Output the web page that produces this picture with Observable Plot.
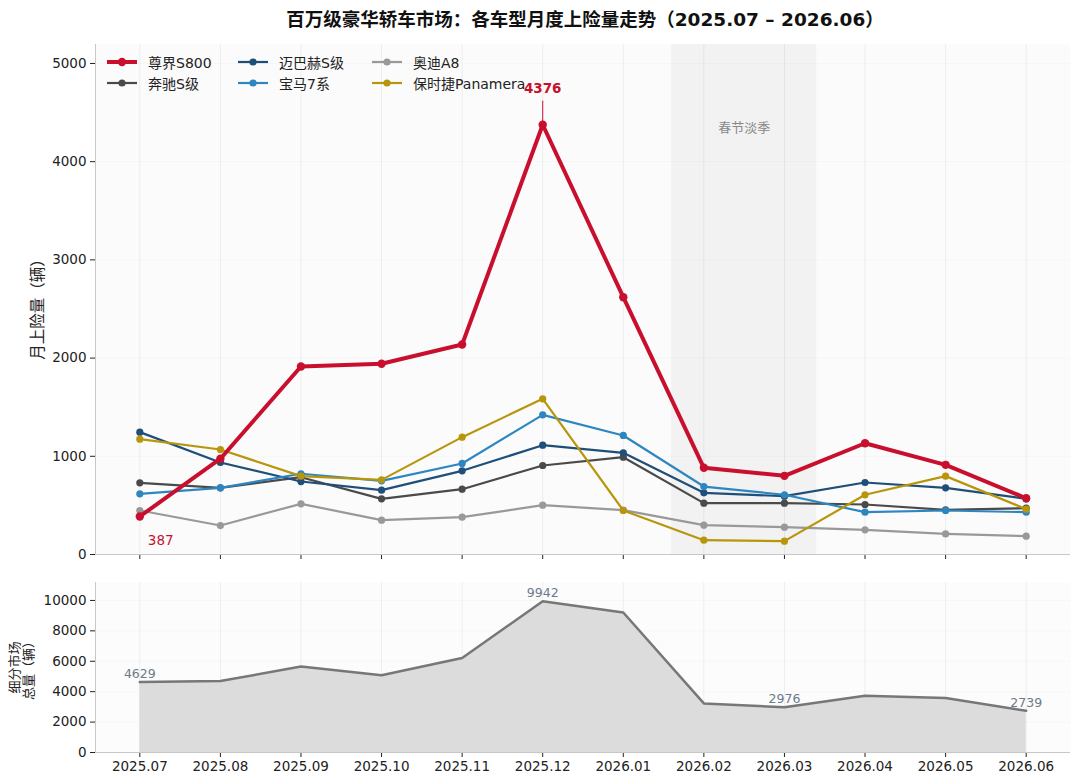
<!DOCTYPE html>
<html>
<head>
<meta charset="utf-8">
<script src="https://cdn.jsdelivr.net/npm/d3@7"></script>
<script src="https://cdn.jsdelivr.net/npm/@observablehq/plot@0.6"></script>
<style>
  html, body { margin: 0; padding: 0; background: #fff; }
  #root { position: relative; width: 1080px; height: 784px; font-family: "DejaVu Sans", "Noto Sans CJK SC", sans-serif; color: #222; overflow: hidden; }
  #title { position: absolute; top: 5px; left: 0; width: 1170px; text-align: center; font-size: 18.5px; font-weight: bold; color: #111; }
  #top { position: absolute; top: 36px; left: 0; }
  #bottom { position: absolute; top: 574px; left: 0; }
  .leg { position: absolute; font-size: 14px; color: #222; display: flex; align-items: center; white-space: nowrap; }
  .leg svg { margin-right: 11px; }
</style>
</head>
<body>
<div id="root">
  <div id="title">百万级豪华轿车市场：各车型月度上险量走势（2025.07 – 2026.06）</div>
  <div id="top"></div>
  <div id="bottom"></div>
  <div id="legend"></div>
</div>
<script>
// ---------- data ----------
const months = ["2025.07","2025.08","2025.09","2025.10","2025.11","2025.12","2026.01","2026.02","2026.03","2026.04","2026.05","2026.06"];
const zunjieS800   = [387, 975, 1914, 1942, 2138, 4376, 2620, 883, 801, 1133, 913, 573];
const benzS        = [730, 679, 787, 567, 665, 906, 991, 523, 523, 509, 455, 472];
const maybachS     = [1246, 937, 743, 655, 852, 1113, 1035, 628, 594, 733, 679, 567];
const bmw7         = [618, 679, 822, 750, 927, 1422, 1212, 692, 608, 431, 448, 431];
const audiA8       = [448, 295, 516, 350, 380, 502, 452, 299, 278, 251, 210, 187];
const panamera     = [1174, 1069, 798, 760, 1195, 1585, 448, 146, 136, 608, 798, 462];
const segmentTotal = [4629, 4700, 5650, 5075, 6217, 9942, 9210, 3230, 2976, 3738, 3580, 2739];
const seriesNames  = ["尊界S800","奔驰S级","迈巴赫S级","宝马7系","奥迪A8","保时捷Panamera"];
const seriesColors = ["#c8102e","#4a4a4a","#1f4e79","#2e86c1","#999999","#b8960c"];
const holidayMonths = ["2026.02","2026.03"];
const holidayLabel = "春节淡季";
const totalLabelMonths = ["2025.07","2025.12","2026.03","2026.06"];
const yTicksTop = [0,1000,2000,3000,4000,5000];
const yTicksBottom = [0,2000,4000,6000,8000,10000];

// ---------- build tables ----------
const seriesValues = [zunjieS800, benzS, maybachS, bmw7, audiA8, panamera];
const series = seriesNames.map((name, k) => ({
  name, color: seriesColors[k], main: k === 0,
  data: seriesValues[k].map((v, i) => ({i, v, name}))
}));
const totals = segmentTotal.map((v, i) => ({i, v}));
const hStart = months.indexOf(holidayMonths[0]);
const hEnd = months.indexOf(holidayMonths[holidayMonths.length - 1]);
const band = [{x1: hStart - 0.4, x2: hEnd + 0.4, label: holidayLabel, xm: (hStart + hEnd) / 2}];
const peak = series[0].data.reduce((a, b) => (b.v > a.v ? b : a));
const first = series[0].data[0];

const font = `"DejaVu Sans", "Noto Sans CJK SC", sans-serif`;
const xDomain = [-0.55, months.length - 1 + 0.55];
const commonStyle = {fontSize: "13.5px", fontFamily: font, color: "#222", background: "transparent", overflow: "visible"};

// ---------- top chart ----------
const ordered = [...series.slice(1), series[0]];
const topMarks = [
  Plot.frame({fill: "#fbfbfb", stroke: null}),
  Plot.rect(band, {x1: "x1", x2: "x2", fill: "#e6e6e6", fillOpacity: 0.45}),
  Plot.gridX(d3.range(months.length), {stroke: "#000", strokeOpacity: 0.06}),
  Plot.gridY(yTicksTop, {stroke: "#000", strokeOpacity: 0.025}),
  Plot.text(band, {x: "xm", y: 4340, text: "label", fill: "#888", fontSize: 13}),
  Plot.ruleX([xDomain[0]], {stroke: "#c8c8c8", strokeWidth: 1}),
  Plot.ruleY([0], {stroke: "#c8c8c8", strokeWidth: 1}),
];
for (const s of ordered) {
  topMarks.push(Plot.line(s.data, {x: "i", y: "v", stroke: s.color, strokeWidth: s.main ? 4 : 2.2, strokeLinejoin: "round"}));
  topMarks.push(Plot.dot(s.data, {x: "i", y: "v", fill: s.color, r: s.main ? 4.2 : 3.6, stroke: null}));
}
topMarks.push(
  Plot.ruleX([peak], {x: "i", y1: "v", y2: d => d.v * 1.055, stroke: seriesColors[0], strokeWidth: 1}),
  Plot.text([peak], {x: "i", y: "v", text: d => String(d.v), dy: -36, fill: seriesColors[0], fontWeight: "bold", fontSize: 13.5}),
  Plot.text([first], {x: "i", y: "v", text: d => String(d.v), dx: 8, dy: 24, textAnchor: "start", fill: seriesColors[0], fontSize: 13.5}),
  Plot.text(["月上险量（辆）"], {frameAnchor: "left", textAnchor: "middle", dx: -57, dy: 6, rotate: -90, fill: "#222", fontSize: 15.5})
);

const topPlot = Plot.plot({
  width: 1080, height: 540,
  marginLeft: 95, marginRight: 10, marginTop: 8, marginBottom: 22,
  style: commonStyle,
  x: {type: "linear", domain: xDomain, ticks: d3.range(months.length), tickFormat: () => "", label: null, tickSize: 5},
  y: {domain: [0, 5193], ticks: yTicksTop, tickFormat: d => String(d), label: null, tickSize: 5, tickPadding: 4},
  marks: topMarks
});
document.getElementById("top").appendChild(topPlot);

// ---------- bottom chart ----------
const bottomPlot = Plot.plot({
  width: 1080, height: 210,
  marginLeft: 95, marginRight: 10, marginTop: 8, marginBottom: 32,
  style: commonStyle,
  x: {type: "linear", domain: xDomain, ticks: d3.range(months.length), tickFormat: i => months[i], label: null, tickSize: 5, tickPadding: 4},
  y: {domain: [0, 11180], ticks: yTicksBottom, tickFormat: d => String(d), label: null, tickSize: 5, tickPadding: 4},
  marks: [
    Plot.frame({fill: "#fcfcfc", stroke: null}),
    Plot.gridX(d3.range(months.length), {stroke: "#000", strokeOpacity: 0.06}),
    Plot.gridY(yTicksBottom, {stroke: "#000", strokeOpacity: 0.025}),
    Plot.areaY(totals, {x: "i", y: "v", fill: "#dcdcdc"}),
    Plot.lineY(totals, {x: "i", y: "v", stroke: "#777", strokeWidth: 2.5}),
    Plot.text(totals.filter(d => totalLabelMonths.includes(months[d.i])), {x: "i", y: "v", text: d => String(d.v), dy: -8, fill: "#6c7a89", fontSize: 12.5}),
    Plot.ruleX([xDomain[0]], {stroke: "#c8c8c8", strokeWidth: 1}),
    Plot.ruleY([0], {stroke: "#c8c8c8", strokeWidth: 1}),
    Plot.text(["细分市场\n总量（辆）"], {frameAnchor: "left", textAnchor: "middle", dx: -74, rotate: -90, fill: "#222", fontSize: 13, lineHeight: 1.05})
  ]
});
document.getElementById("bottom").appendChild(bottomPlot);

// ---------- legend ----------
const legendPos = [[107, 62], [107, 83], [238, 62], [238, 83], [372, 62], [372, 83]];
const legendOrder = [0, 1, 2, 3, 4, 5];
const legend = document.getElementById("legend");
legendOrder.forEach((k, j) => {
  const s = series[k];
  const [lx, ly] = legendPos[j];
  const div = document.createElement("div");
  div.className = "leg";
  div.style.left = lx + "px";
  div.style.top = (ly - 10) + "px";
  div.style.height = "20px";
  const sw = s.main ? 4 : 2.2;
  const r = s.main ? 4.2 : 3.6;
  div.innerHTML = `<svg width="30" height="20"><line x1="0" x2="30" y1="10" y2="10" stroke="${s.color}" stroke-width="${sw}"/><circle cx="15" cy="10" r="${r}" fill="${s.color}"/></svg><span>${s.name}</span>`;
  legend.appendChild(div);
});
</script>
</body>
</html>
